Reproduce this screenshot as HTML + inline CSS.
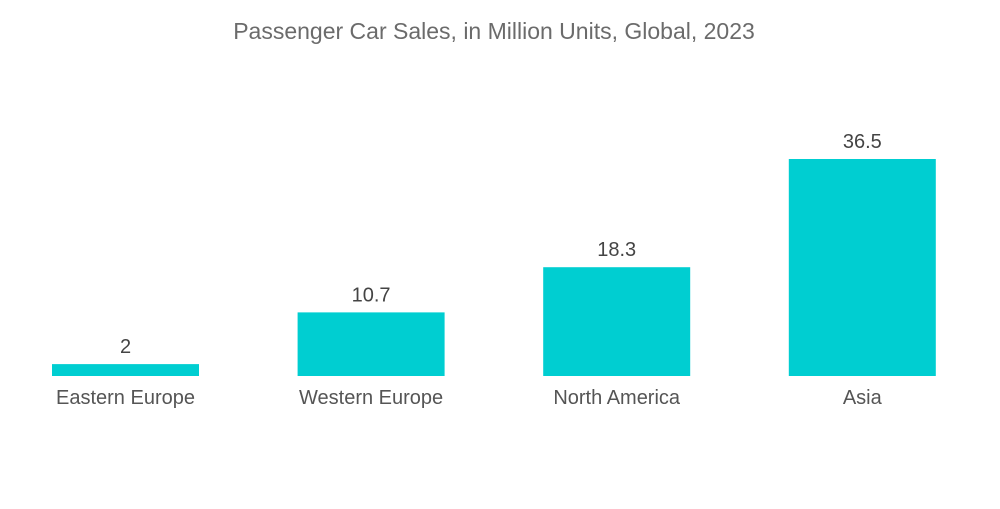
<!DOCTYPE html>
<html><head><meta charset="utf-8"><style>
body{margin:0;background:#fff;width:1000px;height:504px;overflow:hidden;font-family:"Liberation Sans",sans-serif}
</style></head><body>
<svg width="1000" height="504">
<text x="494" y="39" text-anchor="middle" font-size="23" fill="#6b6b6b">Passenger Car Sales, in Million Units, Global, 2023</text>
<g id="bars"></g>
</svg>
<script>
const categories=["Eastern Europe","Western Europe","North America","Asia"];
const values=[2,10.7,18.3,36.5];
const valueLabels=["2","10.7","18.3","36.5"];
const base=376, scale=217/36.5, x0=52, pitch=245.6, bw=147;
const y=v=>base-v*scale;
const g=document.getElementById('bars');
const ns='http://www.w3.org/2000/svg';
categories.forEach((c,i)=>{
  const x=x0+i*pitch;
  const r=document.createElementNS(ns,'rect');
  r.setAttribute('x',x);r.setAttribute('y',y(values[i]));r.setAttribute('width',bw);r.setAttribute('height',base-y(values[i]));r.setAttribute('fill','#00ced1');
  
  
  g.appendChild(r);
  const t=document.createElementNS(ns,'text');
  t.setAttribute('x',x+bw/2);t.setAttribute('y',y(values[i])-11);t.setAttribute('text-anchor','middle');t.setAttribute('font-size','20');t.setAttribute('fill','#444');
  t.textContent=valueLabels[i];
  
  
  g.appendChild(t);
  const l=document.createElementNS(ns,'text');
  l.setAttribute('x',x+bw/2);l.setAttribute('y',404);l.setAttribute('text-anchor','middle');l.setAttribute('font-size','20');l.setAttribute('fill','#555');
  l.textContent=c;
  
  
  g.appendChild(l);
});
</script>
</body></html>
